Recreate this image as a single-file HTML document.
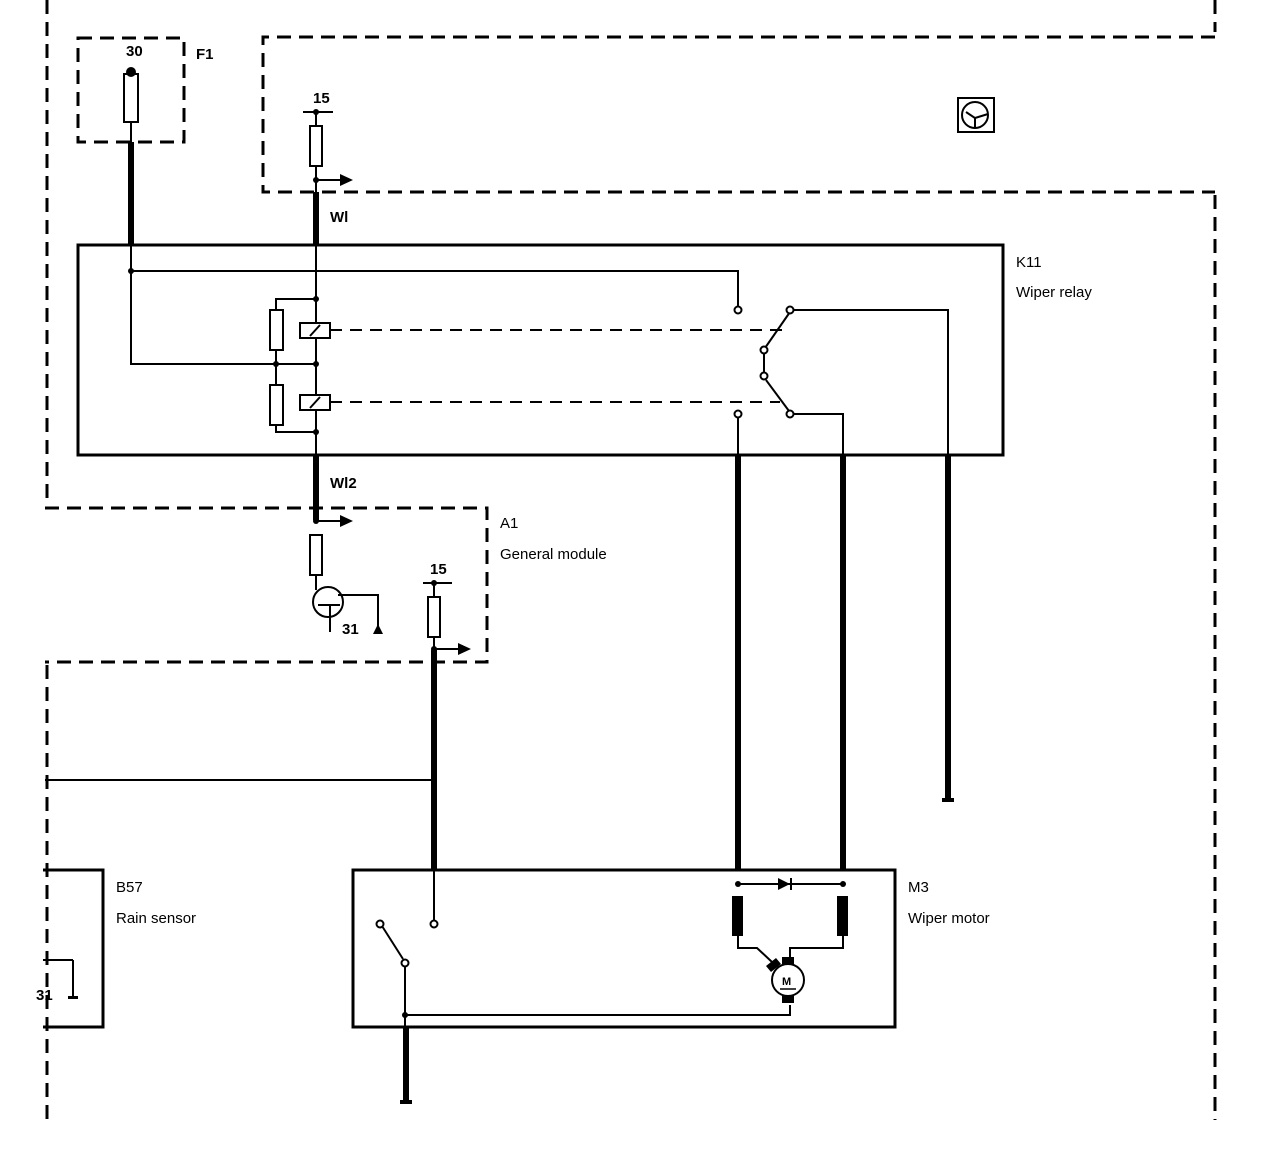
<!DOCTYPE html>
<html><head><style>html,body{margin:0;padding:0;background:#fff}svg{display:block}</style></head><body>
<svg width="1280" height="1152" viewBox="0 0 1280 1152" xmlns="http://www.w3.org/2000/svg" font-family="Liberation Sans, sans-serif" font-size="15" fill="none" stroke="#000">
<g stroke-width="3" stroke-dasharray="14,8">
<line x1="47" y1="0" x2="47" y2="505"/>
<line x1="47" y1="665" x2="47" y2="1120"/>
<line x1="1215" y1="0" x2="1215" y2="32"/>
<line x1="1215" y1="195" x2="1215" y2="1120"/>
<rect x="78" y="38" width="106" height="104"/>
<polyline points="1215,37 263,37 263,192 1215,192"/>
<polyline points="45,508 487,508 487,662 45,662"/>
</g>
<g stroke-width="3">
<rect x="78" y="245" width="925" height="210"/>
<rect x="353" y="870" width="542" height="157"/>
<polyline points="43,870 103,870 103,1027 43,1027"/>
</g>
<g stroke-width="6">
<line x1="131" y1="142" x2="131" y2="245"/>
<line x1="316" y1="192" x2="316" y2="245"/>
<line x1="316" y1="455" x2="316" y2="520"/>
<line x1="738" y1="455" x2="738" y2="870"/>
<line x1="843" y1="455" x2="843" y2="870"/>
<line x1="948" y1="455" x2="948" y2="798"/>
<line x1="434" y1="650" x2="434" y2="870"/>
<line x1="406" y1="1027" x2="406" y2="1100"/>
</g>
<g stroke-width="2">
<rect x="124" y="74" width="14" height="48" fill="#fff"/>
<line x1="131" y1="122" x2="131" y2="142"/>
<line x1="303" y1="112" x2="333" y2="112"/>
<line x1="316" y1="112" x2="316" y2="192"/>
<rect x="310" y="126" width="12" height="40" fill="#fff"/>
<line x1="316" y1="180" x2="340" y2="180"/>
<polyline points="131,245 131,364 316,364"/>
<polyline points="131,271 738,271 738,306"/>
<line x1="316" y1="245" x2="316" y2="455"/>
<polyline points="316,299 276,299 276,432 316,432"/>
<rect x="270" y="310" width="13" height="40" fill="#fff"/>
<rect x="270" y="385" width="13" height="40" fill="#fff"/>
<rect x="300" y="323" width="30" height="15" fill="#fff"/>
<rect x="300" y="395" width="30" height="15" fill="#fff"/>
<line x1="310" y1="336" x2="320" y2="325"/>
<line x1="310" y1="408" x2="320" y2="397"/>
<line x1="330" y1="330" x2="785" y2="330" stroke-dasharray="12,8"/>
<line x1="330" y1="402" x2="780" y2="402" stroke-dasharray="12,8"/>
<polyline points="794,310 948,310 948,455"/>
<line x1="790" y1="312" x2="765" y2="348"/>
<line x1="764" y1="354" x2="764" y2="372"/>
<line x1="766" y1="380" x2="789" y2="411"/>
<polyline points="794,414 843,414 843,455"/>
<line x1="738" y1="418" x2="738" y2="455"/>
<line x1="316" y1="521" x2="340" y2="521"/>
<rect x="310" y="535" width="12" height="40" fill="#fff"/>
<line x1="316" y1="575" x2="316" y2="590"/>
<circle cx="328" cy="602" r="15"/>
<line x1="318" y1="605" x2="340" y2="605"/>
<line x1="330" y1="605" x2="330" y2="632"/>
<polyline points="338,595 378,595 378,628"/>
<line x1="423" y1="583" x2="452" y2="583"/>
<line x1="434" y1="583" x2="434" y2="650"/>
<rect x="428" y="597" width="12" height="40" fill="#fff"/>
<line x1="434" y1="649" x2="458" y2="649"/>
<line x1="45" y1="780" x2="434" y2="780"/>
<line x1="73" y1="960" x2="73" y2="998"/>
<line x1="43" y1="960" x2="73" y2="960"/>
<line x1="434" y1="870" x2="434" y2="920"/>
<line x1="382" y1="926" x2="403" y2="959"/>
<polyline points="405,967 405,1015 790,1015 790,1005"/>
<line x1="405" y1="1015" x2="405" y2="1027"/>
<line x1="738" y1="884" x2="843" y2="884"/>
<polyline points="738,930 738,948 757,948 772,962"/>
<polyline points="843,930 843,948 790,948 790,962"/>
<circle cx="788" cy="980" r="16" fill="#fff"/>
</g>
<g fill="#000" stroke="none">
<circle cx="131" cy="72" r="5"/>
<circle cx="316" cy="112" r="3"/><circle cx="316" cy="180" r="3"/>
<polygon points="340,174 353,180 340,186"/>
<circle cx="131" cy="271" r="3"/><circle cx="316" cy="299" r="3"/><circle cx="316" cy="364" r="3"/><circle cx="276" cy="364" r="3"/><circle cx="316" cy="432" r="3"/>
<circle cx="316" cy="521" r="3"/><polygon points="340,515 353,521 340,527"/>
<circle cx="434" cy="583" r="3"/><circle cx="434" cy="649" r="3"/><polygon points="458,643 471,649 458,655"/>
<polygon points="373,634 378,624 383,634"/>
<circle cx="434" cy="780" r="3"/>
<rect x="942" y="798" width="12" height="4"/><rect x="946" y="794" width="4" height="6"/>
<rect x="400" y="1100" width="12" height="4"/><rect x="403" y="1094" width="6" height="7"/>
<rect x="68" y="996" width="10" height="3"/>
<circle cx="738" cy="884" r="3"/><circle cx="843" cy="884" r="3"/>
<polygon points="778,878 790,884 778,890"/><rect x="790" y="878" width="2" height="12"/>
<rect x="732" y="896" width="11" height="40"/><rect x="837" y="896" width="11" height="40"/>
<rect x="782" y="957" width="12" height="8"/><rect x="782" y="995" width="12" height="8"/>
<polygon points="766,966 776,958 781,964 771,972"/>
<circle cx="405" cy="1015" r="3"/>
<g font-size="15" stroke="none">
<text x="126" y="56" font-weight="bold">30</text>
<text x="196" y="59" font-weight="bold">F1</text>
<text x="313" y="103" font-weight="bold">15</text>
<text x="330" y="222" font-weight="bold">Wl</text>
<text x="330" y="488" font-weight="bold">Wl2</text>
<text x="342" y="634" font-weight="bold">31</text>
<text x="430" y="574" font-weight="bold">15</text>
<text x="1016" y="267">K11</text>
<text x="1016" y="297">Wiper relay</text>
<text x="500" y="528">A1</text>
<text x="500" y="559">General module</text>
<text x="116" y="892">B57</text>
<text x="116" y="923">Rain sensor</text>
<text x="908" y="892">M3</text>
<text x="908" y="923">Wiper motor</text>
<text x="36" y="1000" font-weight="bold">31</text>
<text x="782" y="985" font-size="11" font-weight="bold">M</text>
</g>
</g>
<g stroke-width="2" fill="#fff">
<circle cx="738" cy="310" r="3.5"/><circle cx="790" cy="310" r="3.5"/><circle cx="764" cy="350" r="3.5"/><circle cx="764" cy="376" r="3.5"/><circle cx="790" cy="414" r="3.5"/><circle cx="738" cy="414" r="3.5"/>
<circle cx="434" cy="924" r="3.5"/><circle cx="380" cy="924" r="3.5"/><circle cx="405" cy="963" r="3.5"/>
</g>
<line x1="780" y1="989" x2="796" y2="989" stroke-width="1.5"/>
<g stroke-width="2">
<rect x="958" y="98" width="36" height="34"/>
<circle cx="975" cy="115" r="13"/>
<polyline points="966,112 975,118 975,128"/><line x1="975" y1="118" x2="988" y2="114"/>
</g>
</svg>
</body></html>
